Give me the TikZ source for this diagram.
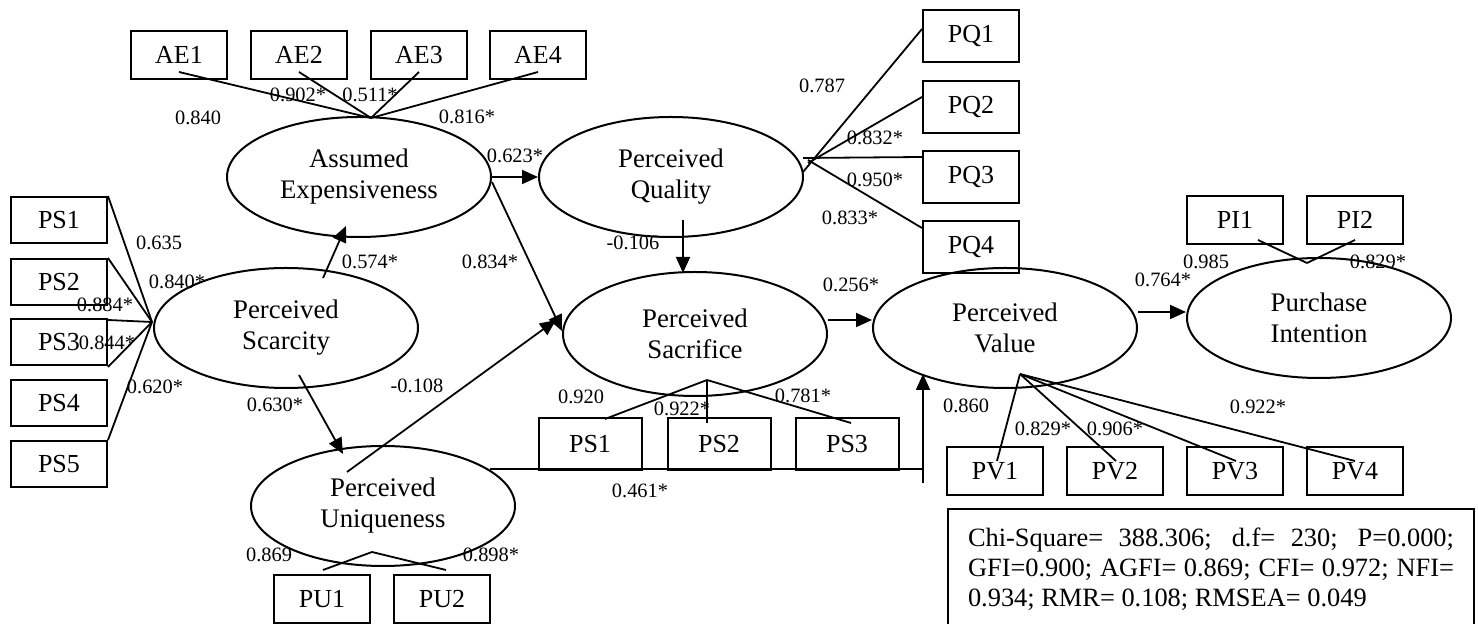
\documentclass[tikz,border=0pt]{standalone}
\usepackage{fontspec}
\setmainfont{Liberation Serif}
\usetikzlibrary{arrows.meta,shapes.geometric,calc}
\begin{document}
\begin{tikzpicture}[x=0.5pt,y=-0.5pt,
  box/.style={draw,line width=1pt,minimum width=48pt,minimum height=24pt,inner sep=0pt,font=\fontsize{13}{15}\selectfont},
  lat/.style={draw,ellipse,line width=1pt,minimum width=132pt,minimum height=60pt,inner sep=0pt,align=center,font=\fontsize{13.4}{15.5}\selectfont},
  lbl/.style={inner sep=0pt,font=\fontsize{10.2}{12}\selectfont},
  ln/.style={line width=0.9pt},
  arr/.style={line width=0.9pt,-{Triangle[length=8pt,width=7pt]}}]
\useasboundingbox (0,0) rectangle (1478,624);

% latent variables
\node[lat] (AE) at (359,177) {Assumed\\Expensiveness};
\node[lat] (PQ) at (671,177) {Perceived\\Quality};
\node[lat] (SC) at (286,328) {Perceived\\Scarcity};
\node[lat,minimum height=62pt] (SA) at (695,334) {Perceived\\Sacrifice};
\node[lat] (PV) at (1005,328) {Perceived\\Value};
\node[lat] (PI) at (1319,318) {Purchase\\Intention};
\node[lat] (PU) at (383,506) {Perceived\\Uniqueness};

% indicators
\node[box] (AE1) at (179,55) {AE1};
\node[box] (AE2) at (299,55) {AE2};
\node[box] (AE3) at (419,55) {AE3};
\node[box] (AE4) at (538,55) {AE4};
\node[box,minimum height=26pt] (PQ1) at (971,36) {PQ1};
\node[box,minimum height=26pt] (PQ2) at (971,107) {PQ2};
\node[box,minimum height=26pt] (PQ3) at (971,177) {PQ3};
\node[box,minimum height=26pt] (PQ4) at (971,247) {PQ4};
\node[box,minimum height=23pt] (PSL1) at (59,220) {PS1};
\node[box,minimum height=23pt] (PSL2) at (59,282) {PS2};
\node[box,minimum height=23pt] (PSL3) at (59,342) {PS3};
\node[box,minimum height=23pt] (PSL4) at (59,403) {PS4};
\node[box,minimum height=23pt] (PSL5) at (59,464) {PS5};
\node[box] (PI1) at (1235,220) {PI1};
\node[box] (PI2) at (1355,220) {PI2};
\node[box] (PV1) at (995,471) {PV1};
\node[box] (PV2) at (1115,471) {PV2};
\node[box] (PV3) at (1235,471) {PV3};
\node[box] (PV4) at (1355,471) {PV4};
\node[box,minimum width=51.5pt,minimum height=26pt] (SA1) at (590,444) {PS1};
\node[box,minimum width=51.5pt,minimum height=26pt] (SA2) at (719,444) {PS2};
\node[box,minimum width=51.5pt,minimum height=26pt] (SA3) at (847,444) {PS3};
\node[box] (PU1) at (322,599) {PU1};
\node[box] (PU2) at (442,599) {PU2};

% hubs
\coordinate (AEh) at (371,118);
\coordinate (SCh) at (152,322);
\coordinate (SAh) at (707,380);
\coordinate (PUh) at (372,552);
\coordinate (PVh) at (1020,374);
\coordinate (PIh) at (1307,263);
\coordinate (q1) at (803,172);
\coordinate (q2) at (808,163);
\coordinate (q3) at (803,158);
\coordinate (q4) at (808,160);

% measurement lines
\foreach \b in {AE1,AE2,AE3,AE4} \draw[ln] ($(\b.south)+(0,-8)$) -- (AEh);
\draw[ln] ($(PQ1.west)+(0,-7)$) -- (q1);
\draw[ln] ($(PQ2.west)+(0,-10)$) -- (q2);
\draw[ln] ($(PQ3.north west)+(0,7)$) -- (q3);
\draw[ln] ($(PQ4.north west)+(0,8)$) -- (q4);
\draw[ln] (PSL1.north east) -- (SCh);
\draw[ln] (PSL2.north east) -- (SCh);
\draw[ln] ($(PSL3.north east)+(0,2)$) -- (SCh);
\draw[ln] ($(PSL4.north east)+(0,-12)$) -- (SCh);
\draw[ln] (PSL5.north east) -- (SCh);
\draw[ln] ($(SA1.north)+(15,2)$) -- (SAh);
\draw[ln] ($(SA2.north)+(-12,6)$) -- (SAh);
\draw[ln] ($(SA3.north)+(4,6)$) -- (SAh);
\draw[ln] ($(PU1.north)+(1,-4)$) -- (PUh);
\draw[ln] ($(PU2.north)+(4,-4)$) -- (PUh);
\draw[ln] ($(PV1.north)+(2,15)$) -- (PVh);
\draw[ln] ($(PV2.north)+(1,15)$) -- (PVh);
\draw[ln] ($(PV3.north)+(1,15)$) -- (PVh);
\draw[ln] ($(PV4.north)+(0,15)$) -- (PVh);
\draw[ln] ($(PI1.south)+(23,-5)$) -- (PIh);
\draw[ln] ($(PI2.south)+(0,-5)$) -- (PIh);

% structural paths
\coordinate (scA) at (323,278); \coordinate (aeB) at (346,226);
\coordinate (scC) at (299,375); \coordinate (puD) at (343,454);
\coordinate (aeE) at (492,182); \coordinate (saF) at (562,331);
\coordinate (puG) at (347,472); \coordinate (saH) at (556,320);
\coordinate (pqI) at (683,220); \coordinate (saJ) at (683,273);
\coordinate (puK) at (490,469); \coordinate (pvL) at (923,469);
\coordinate (pvM) at (923,483); \coordinate (pvN) at (923,374);
\draw[arr] (AE) -- (PQ);
\draw[arr] (scA) -- (aeB);
\draw[arr] (scC) -- (puD);
\draw[arr] (aeE) -- (saF);
\draw[arr] (puG) -- (saH);
\draw[arr] (pqI) -- (saJ);
\draw[arr] (SA.east |- 0,320) -- (PV.west |- 0,320);
\draw[arr] (PV.east |- 0,312) -- (PI.west |- 0,312);
\draw[ln] (puK) -- (pvL);
\draw[arr] (pvM) -- (pvN);

% labels
\node[lbl] (l1) at (198,118) {0.840};
\node[lbl] (l2) at (298,95) {0.902*};
\node[lbl] (l3) at (370,95) {0.511*};
\node[lbl] (l4) at (467,117) {0.816*};
\node[lbl] (l5) at (515,156) {0.623*};
\node[lbl] (l6) at (822,86) {0.787};
\node[lbl] (l7) at (875,138) {0.832*};
\node[lbl] (l8) at (875,180) {0.950*};
\node[lbl] (l9) at (850,218) {0.833*};
\node[lbl] (l10) at (633,243) {-0.106};
\node[lbl] (l11) at (490,262) {0.834*};
\node[lbl] (l12) at (370,262) {0.574*};
\node[lbl] (l13) at (159,243) {0.635};
\node[lbl] (l14) at (177,282) {0.840*};
\node[lbl] (l15) at (105,305) {0.884*};
\node[lbl] (l16) at (107,343) {0.844*};
\node[lbl] (l17) at (155,387) {0.620*};
\node[lbl] (l18) at (275,405) {0.630*};
\node[lbl] (l19) at (417,386) {-0.108};
\node[lbl] (l20) at (851,285) {0.256*};
\node[lbl] (l21) at (581,397) {0.920};
\node[lbl] (l22) at (682,409) {0.922*};
\node[lbl] (l23) at (803,396) {0.781*};
\node[lbl] (l24) at (1163,280) {0.764*};
\node[lbl] (l25) at (1206,262) {0.985};
\node[lbl] (l26) at (1378,262) {0.829*};
\node[lbl] (l27) at (966,406) {0.860};
\node[lbl] (l28) at (1043,429) {0.829*};
\node[lbl] (l29) at (1115,429) {0.906*};
\node[lbl] (l30) at (1258,407) {0.922*};
\node[lbl] (l31) at (269,555) {0.869};
\node[lbl] (l32) at (491,555) {0.898*};
\node[lbl] (l33) at (640,491) {0.461*};

% fit statistics
\node[draw,line width=1pt,anchor=north west,inner xsep=10pt,inner ysep=0pt,font=\fontsize{13.2}{15}\selectfont] (fit) at (947,508)
 {\parbox[c][62pt][t]{243pt}{\vspace*{9.5pt}\makebox[\linewidth][s]{Chi-Square= 388.306; d.f= 230; P=0.000;}\\
 \makebox[\linewidth][s]{GFI=0.900; AGFI= 0.869; CFI= 0.972; NFI=}\\
 0.934; RMR= 0.108; RMSEA= 0.049}};
\end{tikzpicture}
\end{document}
